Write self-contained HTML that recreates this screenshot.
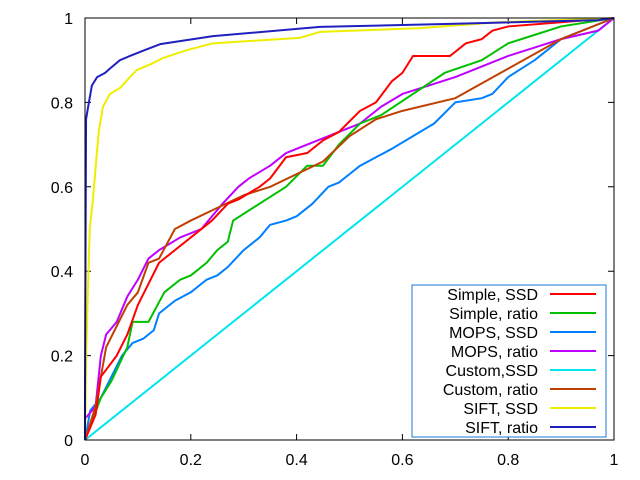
<!DOCTYPE html>
<html><head><style>body{margin:0;background:#fff}svg{display:block}text{font-family:"Liberation Sans",sans-serif;font-size:16px;fill:#000}</style></head>
<body>
<svg width="640" height="480" xmlns="http://www.w3.org/2000/svg">
<rect width="640" height="480" fill="#fff"/>
<g stroke="#000" stroke-width="1">
<path d="M85,440v-6M190.8,440v-6M296.6,440v-6M402.4,440v-6M508.2,440v-6M614,440v-6M85,18v6M190.8,18v6M296.6,18v6M402.4,18v6M508.2,18v6M614,18v6"/>
<path d="M85,440h6M85,355.6h6M85,271.2h6M85,186.8h6M85,102.4h6M85,18h6M614,440h-6M614,355.6h-6M614,271.2h-6M614,186.8h-6M614,102.4h-6M614,18h-6"/>
</g>
<g text-anchor="middle">
<text x="85" y="465">0</text><text x="190.8" y="465">0.2</text><text x="296.6" y="465">0.4</text><text x="402.4" y="465">0.6</text><text x="508.2" y="465">0.8</text><text x="614" y="465">1</text>
</g>
<g text-anchor="end">
<text x="73" y="446">0</text><text x="73" y="361.6">0.2</text><text x="73" y="277.2">0.4</text><text x="73" y="192.8">0.6</text><text x="73" y="108.4">0.8</text><text x="73" y="24">1</text>
</g>
<g transform="translate(85,440) scale(529,-422)" fill="none" stroke-width="2" stroke-linejoin="round">
<polyline vector-effect="non-scaling-stroke" stroke="#00e5ee" points="0,0 1,1"/>
<polyline vector-effect="non-scaling-stroke" stroke="#0080ff" points="0,0 .01,.07 .03,.1 .05,.15 .07,.2 .09,.23 .11,.24 .13,.26 .14,.3 .17,.33 .2,.35 .23,.38 .25,.39 .27,.41 .3,.45 .33,.48 .35,.51 .38,.52 .4,.53 .43,.56 .46,.6 .48,.61 .5,.63 .52,.65 .55,.67 .58,.69 .62,.72 .66,.75 .7,.8 .75,.81 .77,.82 .8,.86 .85,.9 .9,.95 1,1"/>
<polyline vector-effect="non-scaling-stroke" stroke="#c000ff" points="0,.05 .02,.08 .03,.2 .04,.25 .06,.28 .08,.34 .1,.38 .12,.43 .14,.45 .18,.48 .22,.5 .24,.53 .26,.56 .29,.6 .31,.62 .35,.65 .38,.68 .42,.7 .48,.73 .52,.75 .56,.79 .6,.82 .7,.86 .8,.91 .9,.95 .97,.97 1,1"/>
<polyline vector-effect="non-scaling-stroke" stroke="#00c000" points="0,0 .03,.1 .05,.14 .08,.22 .09,.28 .12,.28 .15,.35 .18,.38 .2,.39 .23,.42 .25,.45 .27,.47 .28,.52 .33,.56 .38,.6 .42,.65 .45,.65 .48,.7 .52,.75 .56,.77 .62,.82 .68,.87 .75,.9 .8,.94 .85,.96 .9,.98 1,1"/>
<polyline vector-effect="non-scaling-stroke" stroke="#c04000" points="0,0 .02,.08 .04,.22 .06,.27 .08,.32 .1,.35 .12,.42 .14,.43 .17,.5 .2,.52 .25,.55 .3,.58 .35,.6 .4,.63 .45,.66 .5,.72 .55,.76 .6,.78 .7,.81 .8,.88 .9,.95 1,1"/>
<polyline vector-effect="non-scaling-stroke" stroke="#ff0000" points="0,0 .02,.06 .03,.15 .06,.2 .08,.25 .1,.32 .12,.37 .14,.42 .17,.45 .2,.48 .24,.52 .27,.56 .29,.57 .33,.6 .35,.62 .38,.67 .42,.68 .45,.71 .48,.73 .52,.78 .55,.8 .58,.85 .6,.87 .62,.91 .69,.91 .72,.94 .75,.95 .77,.97 .8,.98 .9,.99 1,1"/>
<polyline vector-effect="non-scaling-stroke" stroke="#eeee00" points="0,0 .002,.19 .006,.38 .009,.5 .015,.57 .021,.66 .026,.73 .034,.79 .047,.82 .066,.834 .085,.86 .098,.877 .123,.89 .147,.905 .193,.924 .242,.94 .406,.953 .444,.967 .633,.976 .78,.99 .97,.998 1,1"/>
<polyline vector-effect="non-scaling-stroke" stroke="#2020c0" points="0,0 0,.11 .002,.76 .006,.79 .013,.84 .023,.86 .038,.87 .047,.88 .066,.9 .085,.91 .113,.924 .142,.938 .242,.957 .444,.979 .69,.986 .97,.995 1,1"/>
</g>
<rect x="85" y="18" width="529" height="422" fill="none" stroke="#000" stroke-width="1"/>
<rect x="412" y="285" width="194" height="152" fill="#fff" stroke="#1e7ad6" stroke-width="1"/>
<g text-anchor="end">
<text x="538" y="300">Simple, SSD</text><text x="538" y="319">Simple, ratio</text><text x="538" y="338">MOPS, SSD</text><text x="538" y="357">MOPS, ratio</text><text x="538" y="376">Custom,SSD</text><text x="538" y="395">Custom, ratio</text><text x="538" y="414">SIFT, SSD</text><text x="538" y="433">SIFT, ratio</text>
</g>
<g stroke-width="2">
<path d="M550,294h46" stroke="#ff0000"/><path d="M550,313h46" stroke="#00c000"/><path d="M550,332h46" stroke="#0080ff"/><path d="M550,351h46" stroke="#c000ff"/><path d="M550,370h46" stroke="#00e5ee"/><path d="M550,389h46" stroke="#c04000"/><path d="M550,408h46" stroke="#eeee00"/><path d="M550,427h46" stroke="#2020c0"/>
</g>
</svg>
</body></html>
